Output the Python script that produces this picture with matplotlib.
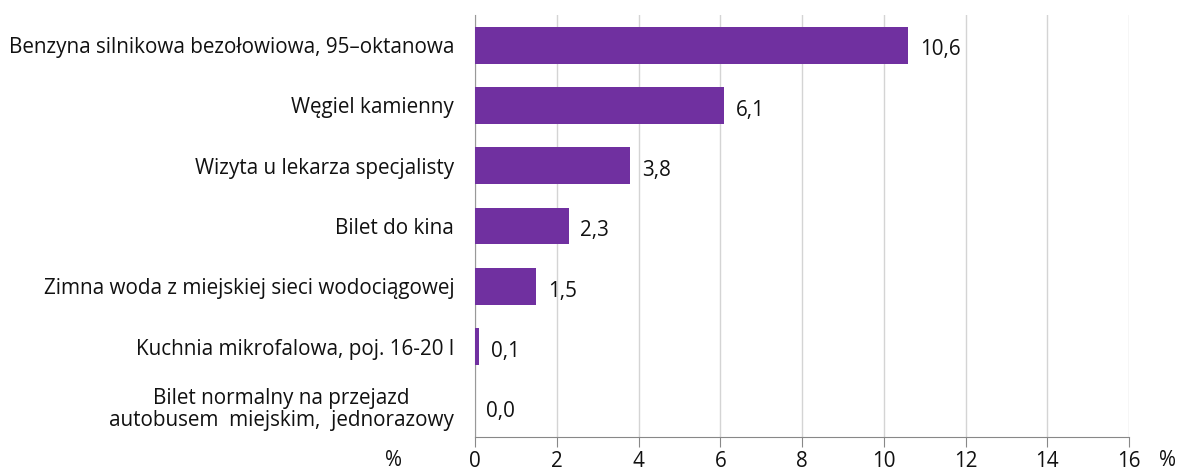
import matplotlib.pyplot as plt
import numpy as np

plt.rcParams['font.family'] = ['Open Sans', 'DejaVu Sans']

categories = [
    "Benzyna silnikowa bezołowiowa, 95–oktanowa",
    "Węgiel kamienny",
    "Wizyta u lekarza specjalisty",
    "Bilet do kina",
    "Zimna woda z miejskiej sieci wodociągowej",
    "Kuchnia mikrofalowa, poj. 16-20 l",
    "Bilet normalny na przejazd\nautobusem  miejskim,  jednorazowy",
]
values = [10.6, 6.1, 3.8, 2.3, 1.5, 0.1, 0.0]
value_labels = ["10,6", "6,1", "3,8", "2,3", "1,5", "0,1", "0,0"]
xticks = [0, 2, 4, 6, 8, 10, 12, 14, 16]

fs = 14.9
fig = plt.figure(figsize=(11.82, 4.70), dpi=100)
ax = fig.add_axes([475/1182, 1 - 437/470, (1129-475)/1182, (437-15)/470])

y = np.arange(len(categories))
ax.barh(y, values, height=0.61, color='#7030A0', zorder=3)
for yi, v, lab in zip(y, values, value_labels):
    ax.text(v + 0.28, yi + 0.08, lab, va='center', ha='left', fontsize=fs, color='#111111')

ax.set_ylim(len(categories) - 0.5, -0.5)
ax.set_xlim(0, 16)
ax.set_yticks(y)
ax.set_yticklabels(categories, fontsize=fs, color='#111111', linespacing=1.05)
ax.tick_params(axis='y', length=0, pad=15)
for lab in ax.get_yticklabels():
    lab.set_multialignment('center')
ax.set_xticks(xticks)
ax.set_xticklabels([str(t) for t in xticks], fontsize=fs, color='#111111')
ax.tick_params(axis='x', length=7, color='#888888', pad=3)
ax.grid(axis='x', color='#d4d4d4', linewidth=1, zorder=0)

for s in ['top', 'right']:
    ax.spines[s].set_visible(False)
ax.spines['left'].set_color('#999999')
ax.spines['bottom'].set_color('#888888')

fig.text(393/1182, 1 - 460/470, "%", ha='center', va='center', fontsize=fs, color='#111111')
fig.text(1168/1182, 1 - 460/470, "%", ha='center', va='center', fontsize=fs, color='#111111')

fig.savefig('out.png', dpi=100)
